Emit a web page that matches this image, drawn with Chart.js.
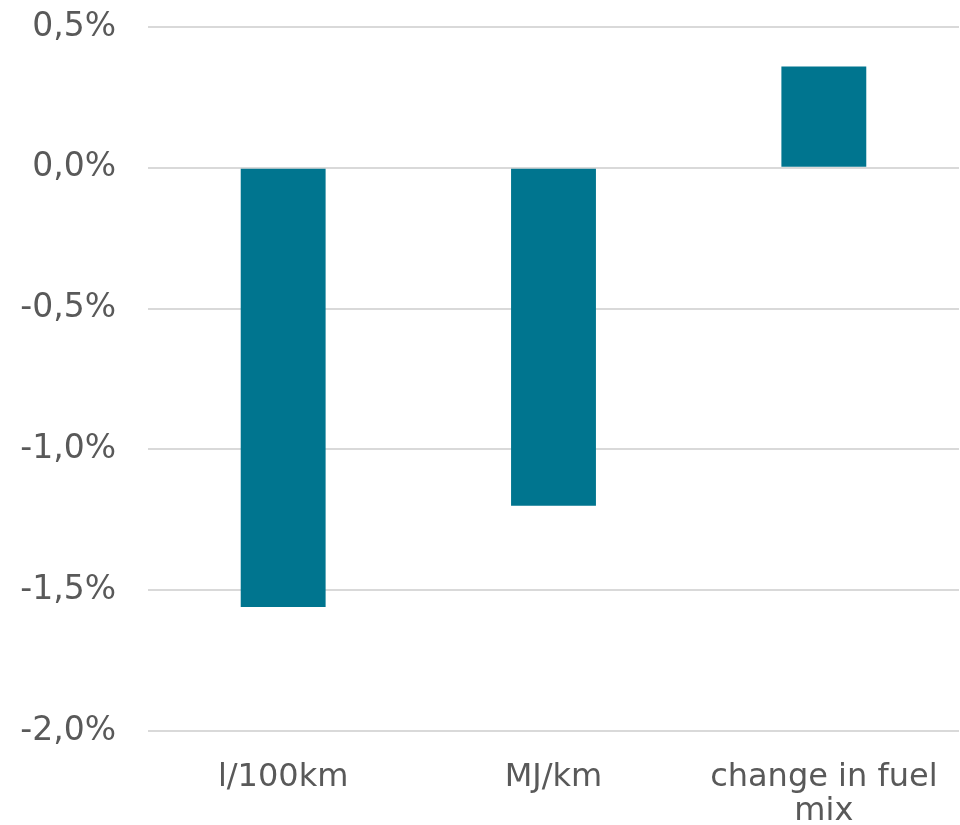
<!DOCTYPE html>
<html>
<head>
<meta charset="utf-8">
<script src="https://cdn.jsdelivr.net/npm/chart.js@4/dist/chart.umd.min.js"></script>
<style>
  body { margin: 0; background: #fff; }
  #chart { display: block; }
</style>
</head>
<body>
<canvas id="chart" width="960" height="825"></canvas>
<script>
// chart data
var categories = ['l/100km', 'MJ/km', ['change in fuel', 'mix']];
var changes = [-1.56, -1.20, 0.36];
var yMin = -2.0;
var yMax = 0.5;
var yStep = 0.5;

var textColor = '#595959';
var fontFamily = '"DejaVu Sans", Verdana, sans-serif';

var ctx = document.getElementById('chart');
new Chart(ctx, {
    type: 'bar',
    data: {
        labels: categories,
        datasets: [{
            data: changes,
            backgroundColor: '#00758F',
            borderWidth: 0,
            barPercentage: 0.314,
            categoryPercentage: 1
        }]
    },
    options: {
        responsive: false,
        animation: false,
        layout: { padding: { top: 27, right: 1, left: 0, bottom: 0 } },
        plugins: {
            legend: { display: false },
            tooltip: { enabled: false }
        },
        scales: {
            x: {
                grid: { display: false, drawTicks: false },
                border: { display: false },
                ticks: {
                    color: textColor,
                    padding: 29,
                    maxRotation: 0,
                    autoSkip: false,
                    font: { family: fontFamily, size: 32, lineHeight: 1.08 }
                },
                afterFit: function(scale) {
                    scale.height = 94;
                    scale.paddingLeft = 0;
                    scale.paddingRight = 0;
                }
            },
            y: {
                min: yMin,
                max: yMax,
                grid: { color: '#d9d9d9', lineWidth: 2, drawTicks: false },
                border: { display: false },
                ticks: {
                    stepSize: yStep,
                    color: textColor,
                    padding: 32,
                    font: { family: fontFamily, size: 33 },
                    callback: function(value) {
                        return value.toFixed(1).replace('.', ',') + '%';
                    }
                },
                afterFit: function(scale) {
                    scale.width = 148;
                    scale.paddingTop = 0;
                    scale.paddingBottom = 0;
                }
            }
        }
    }
});
</script>
</body>
</html>
